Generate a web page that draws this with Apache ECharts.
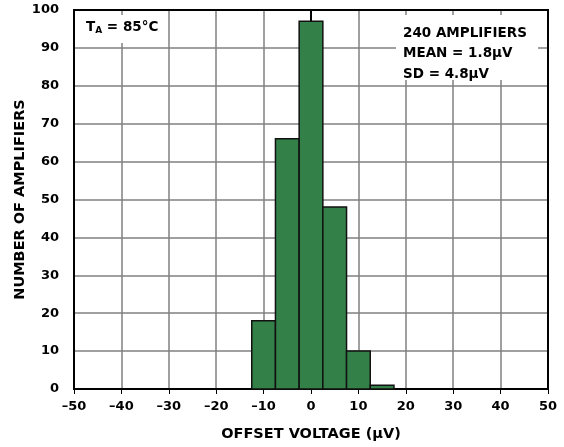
<!DOCTYPE html>
<html><head><meta charset="utf-8">
<script src="https://cdn.jsdelivr.net/npm/echarts@6/dist/echarts.min.js"></script>
<style>html,body{margin:0;padding:0;background:#fff}#c{width:564px;height:447px}</style>
</head><body><div id="c"></div>
<script>
const binStarts = [-12.5, -7.5, -2.5, 2.5, 7.5, 12.5];
const binWidth = 5;
const counts = [18, 66, 97, 48, 10, 1];
const xTicks = [-50, -40, -30, -20, -10, 0, 10, 20, 30, 40, 50];
const yTicks = [0, 10, 20, 30, 40, 50, 60, 70, 80, 90, 100];
const notes = ['240 AMPLIFIERS', 'MEAN = 1.8µV', 'SD = 4.8µV'];

const data = binStarts.map((s, i) => [s, s + binWidth, counts[i]]);
const font = '"DejaVu Sans", "Liberation Sans", Arial, sans-serif';
const chart = echarts.init(document.getElementById('c'));
const fmtX = v => (v < 0 ? '\u2013' + Math.abs(v) : String(v));
chart.setOption({
  animation: false,
  grid: {left: 74, right: 16, top: 10, bottom: 58, show: true, borderColor: '#000', borderWidth: 2, z: 3,
         containLabel: false, outerBoundsMode: 'none'},
  xAxis: [{
    type: 'value', min: xTicks[0], max: xTicks[xTicks.length - 1], interval: 10,
    axisLine: {show: true, onZero: false, lineStyle: {color: '#000', width: 2}},
    axisTick: {show: false},
    splitLine: {show: true, lineStyle: {color: '#808080', width: 1.5}},
    axisLabel: {formatter: fmtX, color: '#000', fontFamily: font, fontWeight: 'bold', fontSize: 13, margin: 11},
    name: 'OFFSET VOLTAGE (µV)', nameLocation: 'middle', nameGap: 38, nameMoveOverlap: false,
    nameTextStyle: {color: '#000', fontFamily: font, fontWeight: 'bold', fontSize: 14.5}
  }, {
    type: 'value', position: 'top', min: xTicks[0], max: xTicks[xTicks.length - 1], interval: 10,
    axisLine: {show: false}, axisLabel: {show: false}, splitLine: {show: false},
    axisTick: {show: true, inside: true, length: 5, lineStyle: {color: '#000', width: 1}}
  }],
  yAxis: {
    type: 'value', min: yTicks[0], max: yTicks[yTicks.length - 1], interval: 10,
    axisLine: {show: true, lineStyle: {color: '#000', width: 2}},
    axisTick: {show: true, length: 11, lineStyle: {color: '#000', width: 1.5}},
    splitLine: {show: true, lineStyle: {color: '#808080', width: 1.5}},
    axisLabel: {color: '#000', fontFamily: font, fontWeight: 'bold', fontSize: 13, margin: 15},
    name: 'NUMBER OF AMPLIFIERS', nameLocation: 'middle', nameGap: 46, nameMoveOverlap: false,
    nameTextStyle: {color: '#000', fontFamily: font, fontWeight: 'bold', fontSize: 14.5}
  },
  graphic: [
    {type: 'rect', z: 10, shape: {x: 78, y: 15, width: 87, height: 28}, style: {fill: '#fff'}},
    {type: 'text', z: 11, left: 86, top: 20, style: {
      rich: {
        m: {fontFamily: font, fontWeight: 'bold', fontSize: 13.5, fill: '#000'},
        s: {fontFamily: font, fontWeight: 'bold', fontSize: 9, fill: '#000', padding: [8, 0, 0, 0]}
      },
      text: '{m|T}{s|A}{m| = 85°C}'
    }},
    {type: 'rect', z: 10, shape: {x: 396, y: 15, width: 142, height: 65}, style: {fill: '#fff'}},
    {type: 'text', z: 11, left: 403, top: 23, style: {
      text: notes.join('\n'), fontFamily: font, fontWeight: 'bold', fontSize: 13.5, lineHeight: 20.5, fill: '#000'
    }}
  ],
  series: [{
    type: 'custom',
    data: data,
    renderItem: (params, api) => {
      const p0 = api.coord([api.value(0), api.value(2)]);
      const p1 = api.coord([api.value(1), 0]);
      return {type: 'rect', shape: {x: p0[0], y: p0[1], width: p1[0] - p0[0], height: p1[1] - p0[1]},
        style: {fill: '#348049', stroke: '#111', lineWidth: 1.5}};
    },
    encode: {x: [0, 1], y: 2},
    z: 5
  }]
});
</script></body></html>
